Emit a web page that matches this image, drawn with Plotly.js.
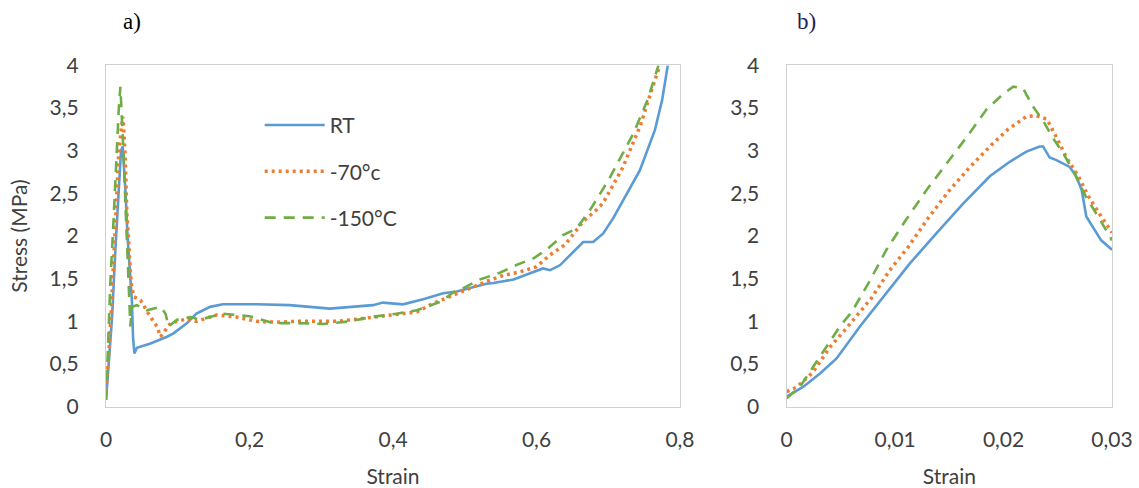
<!DOCTYPE html>
<html><head><meta charset="utf-8">
<script src="https://cdn.plot.ly/plotly-3.0.1.min.js"></script>
<style>html,body{margin:0;padding:0;background:#fff}#chart{width:1139px;height:488px}</style>
</head><body><div id="chart"></div>
<script>
// Panel a) full strain range
const rtX_a = [0,0.0037,0.0084,0.013,0.0177,0.0209,0.0232,0.027,0.030,0.034,0.036,0.0376,0.0395,0.043,0.047,0.062,0.085,0.094,0.113,0.126,0.145,0.163,0.21,0.256,0.312,0.372,0.386,0.414,0.442,0.470,0.489,0.507,0.530,0.540,0.568,0.609,0.619,0.633,0.665,0.679,0.693,0.707,0.721,0.744,0.765,0.775,0.783];
const rtY_a = [0.08,0.47,1.05,1.84,2.54,3.0,3.05,2.54,1.99,1.52,1.25,0.82,0.625,0.69,0.70,0.74,0.82,0.86,0.98,1.09,1.17,1.20,1.20,1.19,1.15,1.19,1.22,1.20,1.26,1.33,1.35,1.39,1.44,1.45,1.49,1.62,1.60,1.66,1.93,1.93,2.03,2.21,2.42,2.77,3.24,3.59,4.0];

const m70X_a = [0,0.0037,0.007,0.0107,0.0153,0.0177,0.021,0.0232,0.0246,0.027,0.029,0.0325,0.035,0.0386,0.048,0.059,0.071,0.076,0.090,0.113,0.126,0.154,0.182,0.21,0.238,0.266,0.293,0.321,0.349,0.377,0.405,0.433,0.456,0.484,0.507,0.531,0.554,0.577,0.60,0.619,0.640,0.665,0.684,0.693,0.72,0.745,0.76,0.772];
const m70Y_a = [0.195,0.59,1.09,1.84,2.54,2.97,3.28,3.40,3.28,2.85,2.27,1.76,1.45,1.29,1.25,1.09,0.94,0.82,0.98,1.03,1.00,1.075,1.05,1.00,0.99,1.00,1.00,1.00,1.025,1.055,1.09,1.11,1.21,1.31,1.39,1.47,1.54,1.58,1.64,1.78,1.90,2.17,2.31,2.39,2.80,3.30,3.70,4.0];

const m150X_a = [0,0.0023,0.006,0.0107,0.0144,0.0177,0.020,0.0223,0.0246,0.027,0.030,0.0325,0.0339,0.036,0.043,0.057,0.076,0.083,0.087,0.099,0.118,0.131,0.163,0.20,0.233,0.266,0.303,0.340,0.372,0.405,0.433,0.466,0.489,0.498,0.521,0.549,0.572,0.596,0.614,0.637,0.656,0.675,0.70,0.735,0.755,0.770];
const m150Y_a = [0.08,0.66,1.45,2.23,3.0,3.48,3.75,3.40,2.93,2.38,1.76,1.33,0.94,1.17,1.19,1.13,1.17,1.09,0.94,1.02,1.05,1.02,1.09,1.06,0.98,0.98,0.97,1.00,1.055,1.09,1.13,1.23,1.37,1.39,1.49,1.57,1.66,1.74,1.84,2.01,2.09,2.31,2.65,3.20,3.60,4.0];

// Panel b) zoom on the first peak
const rtX_b = [0,0.00154,0.00307,0.0046,0.00675,0.0092,0.01136,0.0138,0.01627,0.01873,0.02057,0.0221,0.02333,0.02364,0.02425,0.02487,0.0261,0.0267,0.0272,0.02763,0.02825,0.029,0.030];
const rtY_b = [0.117,0.234,0.39,0.566,0.94,1.33,1.68,2.03,2.38,2.70,2.87,2.99,3.05,3.05,2.92,2.89,2.81,2.70,2.54,2.23,2.11,1.95,1.84];

const m70X_b = [0,0.00092,0.0024,0.004,0.00537,0.0066,0.0078,0.0095,0.0112,0.01305,0.0149,0.0169,0.0189,0.0204,0.0221,0.0230,0.0240,0.0249,0.0258,0.0269,0.0278,0.0289,0.030];
const m70Y_b = [0.176,0.23,0.40,0.70,0.90,1.08,1.27,1.60,1.87,2.21,2.52,2.81,3.07,3.25,3.40,3.41,3.37,3.15,2.92,2.70,2.47,2.25,2.04];

const m150X_b = [0,0.00123,0.00246,0.00384,0.0049,0.006,0.00768,0.0092,0.0110,0.0129,0.01474,0.0166,0.0184,0.020,0.0209,0.0218,0.0227,0.0236,0.0246,0.0255,0.0264,0.0276,0.0289,0.030];
const m150Y_b = [0.10,0.234,0.47,0.74,0.94,1.11,1.48,1.84,2.19,2.54,2.85,3.16,3.48,3.67,3.75,3.73,3.52,3.36,3.14,2.97,2.77,2.46,2.19,1.95];

const names = ['RT','-70°c','-150°C'];
const colors = ['#5B9BD5','#ED7D31','#70AD47'];
const dashes = ['solid','3px,4px','11px,8px'];

const FONT = 'Lato, "Open Sans", sans-serif';
const TXT = '#404040';
const FS = 21;

function tr(x,y,i,ax,show){
  return {x:x,y:y,type:'scatter',mode:'lines',name:names[i],legendgroup:'g'+i,showlegend:show,
    xaxis:ax[0],yaxis:ax[1],
    line:{color:colors[i],width:i===1?3.5:2.6,dash:dashes[i]}};
}
const data = [
  tr(rtX_a,rtY_a,0,['x','y'],true),
  tr(m70X_a,m70Y_a,1,['x','y'],true),
  tr(m150X_a,m150Y_a,2,['x','y'],true),
  tr(rtX_b,rtY_b,0,['x2','y2'],false),
  tr(m70X_b,m70Y_b,1,['x2','y2'],false),
  tr(m150X_b,m150Y_b,2,['x2','y2'],false)
];

const axBase = {showgrid:false,zeroline:false,showline:true,mirror:true,linecolor:'#D0D0D0',linewidth:1.2,
  ticks:'',tickfont:{family:FONT,size:FS,color:TXT}};

const layout = {
  width:1139,height:488,
  margin:{l:0,r:0,t:0,b:0},
  paper_bgcolor:'#fff',plot_bgcolor:'#fff',
  separators:', ',
  font:{family:FONT,color:TXT},
  showlegend:true,
  legend:{x:0.228,y:0.785,xanchor:'left',yanchor:'top',bgcolor:'rgba(0,0,0,0)',
    font:{family:FONT,size:FS,color:TXT},traceorder:'grouped',tracegroupgap:16,itemwidth:60},
  xaxis:Object.assign({},axBase,{domain:[0.0931,0.597],range:[0,0.8],tickvals:[0,0.2,0.4,0.6,0.8],anchor:'y',ticklabelstandoff:14,
    title:{text:'Strain',font:{family:FONT,size:FS,color:TXT},standoff:22}}),
  yaxis:Object.assign({},axBase,{domain:[0.1666,0.866],range:[0,4],dtick:0.5,anchor:'x',ticklabelstandoff:22,
    title:{text:'Stress (MPa)',font:{family:FONT,size:FS,color:TXT},standoff:16}}),
  xaxis2:Object.assign({},axBase,{domain:[0.6907,0.9763],range:[0,0.03],tickvals:[0,0.01,0.02,0.03],anchor:'y2',ticklabelstandoff:14,
    title:{text:'Strain',font:{family:FONT,size:FS,color:TXT},standoff:22}}),
  yaxis2:Object.assign({},axBase,{domain:[0.1666,0.866],range:[0,4],dtick:0.5,anchor:'x2',ticklabelstandoff:22}),
  annotations:[
    {text:'a)',xref:'paper',yref:'paper',x:132/1139,y:1-22/488,xanchor:'center',yanchor:'middle',showarrow:false,
      font:{family:'"Liberation Serif", serif',size:23,color:'#000'}},
    {text:'b)',xref:'paper',yref:'paper',x:806/1139,y:1-22/488,xanchor:'center',yanchor:'middle',showarrow:false,
      font:{family:'"Liberation Serif", serif',size:23,color:'#1F1F5F'}}
  ]
};
Plotly.newPlot('chart',data,layout,{displayModeBar:false,staticPlot:true});
</script></body></html>
